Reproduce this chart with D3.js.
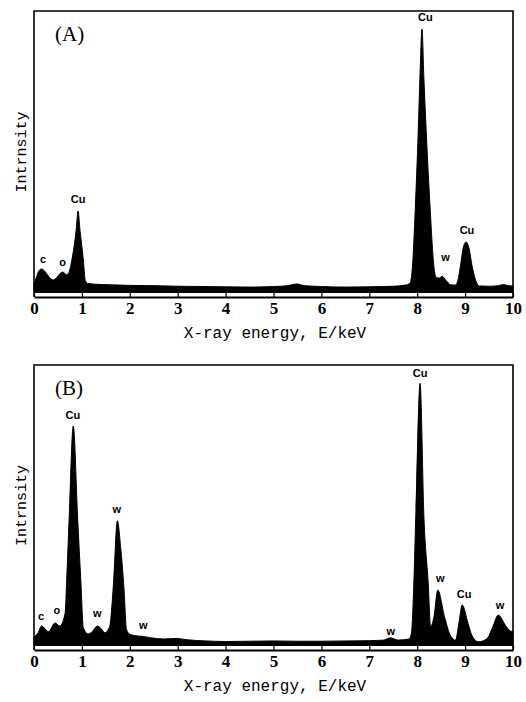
<!DOCTYPE html>
<html>
<head>
<meta charset="utf-8">
<script src="https://cdn.jsdelivr.net/npm/d3@7"></script>
<style>
  html, body { margin: 0; padding: 0; background: #fff; }
  svg { display: block; }
</style>
</head>
<body>
<div id="chart"></div>
<script>
// x axis ticks (keV)
const energyTicks = [0, 1, 2, 3, 4, 5, 6, 7, 8, 9, 10]

// spectrum (A), intensity in arbitrary units (0-100)
const energyA = [0.00, 0.05, 0.10, 0.16, 0.22, 0.30, 0.40, 0.48, 0.55, 0.61, 0.68, 0.72, 0.79, 0.88, 0.92, 0.96, 1.03, 1.07, 1.12,
  1.30, 1.60, 2.00, 2.50, 3.00, 3.50, 4.00, 4.50, 5.00, 5.30, 5.48, 5.65, 6.00, 6.50, 7.00, 7.50, 7.75,
  7.85, 7.90, 7.96, 8.02, 8.06, 8.10, 8.14, 8.19, 8.27, 8.35, 8.40, 8.46, 8.52, 8.60, 8.70, 8.80,
  8.85, 8.90, 8.96, 9.02, 9.08, 9.15, 9.22, 9.30, 9.50, 9.70, 9.80, 9.90, 10.00]
const intensityA = [3.5, 5.5, 7.8, 8.5, 7.8, 6.0, 4.6, 5.6, 7.0, 7.4, 6.5, 7.0, 11.7, 22.3, 29.1, 22.3, 11.7, 4.5, 3.4,
  3.1, 2.9, 2.7, 2.6, 2.4, 2.3, 2.2, 2.1, 2.3, 2.6, 3.2, 2.6, 2.3, 2.1, 2.2, 2.4, 2.8,
  3.5, 9.2, 30, 56.7, 78, 93.6, 76, 56.7, 30, 9.2, 5.5, 5.3, 5.9, 4.5, 2.9, 2.8,
  4.5, 9.2, 16, 18.1, 16, 9.2, 4.5, 2.5, 2.4, 2.6, 3.0, 2.6, 2.5]

// spectrum (B)
const energyB = [0.00, 0.08, 0.16, 0.30, 0.44, 0.54, 0.65, 0.68, 0.735, 0.82, 0.91, 0.98, 1.03, 1.13, 1.22, 1.32, 1.40, 1.48,
  1.58, 1.66, 1.74, 1.81, 1.88, 1.93, 2.00, 2.15, 2.28, 2.45, 2.70, 2.97, 3.20, 3.60, 4.00, 4.50, 5.00, 5.50,
  6.00, 6.50, 7.00, 7.30, 7.44, 7.60, 7.83, 7.88, 7.93, 7.97, 8.06, 8.14, 8.23, 8.28, 8.35, 8.43, 8.57,
  8.70, 8.80, 8.87, 8.94, 9.06, 9.15, 9.28, 9.45, 9.58, 9.69, 9.86, 9.93, 10.00]
const intensityB = [3.3, 4.5, 7.1, 5.1, 8.2, 7.1, 11.7, 22.4, 46, 78.3, 46, 22.4, 6.4, 4.3, 5.2, 7.1, 6.2, 4.7,
  7.0, 22.4, 44.6, 35, 20, 6.0, 4.2, 3.6, 3.4, 2.9, 2.5, 2.7, 2.2, 1.8, 1.6, 1.7, 1.8, 1.7,
  1.7, 1.8, 1.9, 2.1, 2.9, 2.1, 2.5, 4.6, 22.4, 46, 93.5, 46, 22.4, 6.9, 10.4, 19.9, 10.4,
  3.5, 2.1, 8.1, 14.6, 8.1, 3.5, 1.5, 2.5, 6.9, 11.0, 6.9, 5.5, 5.1]

// element labels: text, energy (keV), height (same units as intensity)
const labelsA = [
  { text: 'c', e: 0.19, h: 12.1 },
  { text: 'o', e: 0.60, h: 11.0 },
  { text: 'Cu', e: 0.92, h: 33.3 },
  { text: 'Cu', e: 8.17, h: 97.9 },
  { text: 'w', e: 8.59, h: 12.8 },
  { text: 'Cu', e: 9.04, h: 22.3 }
]
const labelsB = [
  { text: 'c', e: 0.15, h: 10.7 },
  { text: 'o', e: 0.48, h: 12.8 },
  { text: 'Cu', e: 0.81, h: 82.2 },
  { text: 'w', e: 1.32, h: 11.7 },
  { text: 'w', e: 1.73, h: 48.8 },
  { text: 'w', e: 2.28, h: 7.5 },
  { text: 'w', e: 7.45, h: 5.3 },
  { text: 'Cu', e: 8.06, h: 97.2 },
  { text: 'w', e: 8.48, h: 24.2 },
  { text: 'Cu', e: 8.98, h: 18.5 },
  { text: 'w', e: 9.73, h: 14.6 }
]

const width = 526, height = 702
const left = 34, right = 513

var svg = d3.select('#chart')
  .append('svg')
  .attr('width', width)
  .attr('height', height)

svg.append('rect')
  .attr('width', width)
  .attr('height', height)
  .attr('fill', '#fff')

var x = d3.scaleLinear().domain([0, 10]).range([left, right])

function drawPanel(name, energy, intensity, labels, top, base, axisY) {
  var y = d3.scaleLinear().domain([0, 100]).range([base, top])
  var pts = energy.map((e, i) => ({ e: e, i: intensity[i] }))
  var g = svg.append('g').attr('class', 'panel-' + name)

  var area = d3.area()
    .x(d => x(d.e))
    .y0(base)
    .y1(d => y(d.i))
    .curve(d3.curveMonotoneX)

  g.append('path')
    .datum(pts)
    .attr('d', area)
    .attr('fill', '#000')
    .attr('stroke', '#000')
    .attr('stroke-width', 1)

  // white strip between the spectrum and the energy axis
  g.append('rect')
    .attr('x', left)
    .attr('y', base)
    .attr('width', right - left)
    .attr('height', axisY - base - 1)
    .attr('fill', '#fff')

  // frame
  g.append('path')
    .attr('d', `M${left},${axisY}V${top}H${right}V${axisY}`)
    .attr('fill', 'none')
    .attr('stroke', '#000')
    .attr('stroke-width', 1.6)

  var axis = g.append('g')
    .attr('transform', `translate(0,${axisY})`)
    .call(d3.axisBottom(x).tickValues(energyTicks).tickSize(-4).tickSizeOuter(0).tickPadding(5).tickFormat(d3.format('d')))

  axis.select('.domain').attr('stroke-width', 2)
  axis.selectAll('.tick line').attr('stroke-width', 1.2)
  axis.selectAll('.tick text')
    .attr('font-family', '"Liberation Serif", serif')
    .attr('font-size', 17)
    .attr('font-weight', 'bold')
    .attr('fill', '#000')

  g.append('text')
    .attr('x', 275)
    .attr('y', axisY + 41)
    .attr('text-anchor', 'middle')
    .attr('font-family', '"Liberation Mono", monospace')
    .attr('font-size', 16)
    .text('X-ray energy, E/keV')

  g.append('text')
    .attr('transform', `translate(22,${(top + base) / 2})rotate(-90)`)
    .attr('text-anchor', 'middle')
    .attr('dominant-baseline', 'central')
    .attr('font-family', '"Liberation Mono", monospace')
    .attr('font-size', 15)
    .text('Intrnsity')

  g.append('text')
    .attr('x', 55)
    .attr('y', top + 30)
    .attr('font-family', '"Liberation Serif", serif')
    .attr('font-size', 21)
    .text(`(${name})`)

  g.selectAll('.peak-label')
    .data(labels)
    .enter()
    .append('text')
    .attr('class', 'peak-label')
    .attr('x', d => x(d.e))
    .attr('y', d => y(d.h))
    .attr('text-anchor', 'middle')
    .attr('dominant-baseline', 'central')
    .attr('font-family', '"Liberation Sans", sans-serif')
    .attr('font-weight', 'bold')
    .attr('font-size', 11)
    .text(d => d.text)
}

drawPanel('A', energyA, intensityA, labelsA, 11, 293, 297)
drawPanel('B', energyB, intensityB, labelsB, 365, 646, 650)
</script>
</body>
</html>
